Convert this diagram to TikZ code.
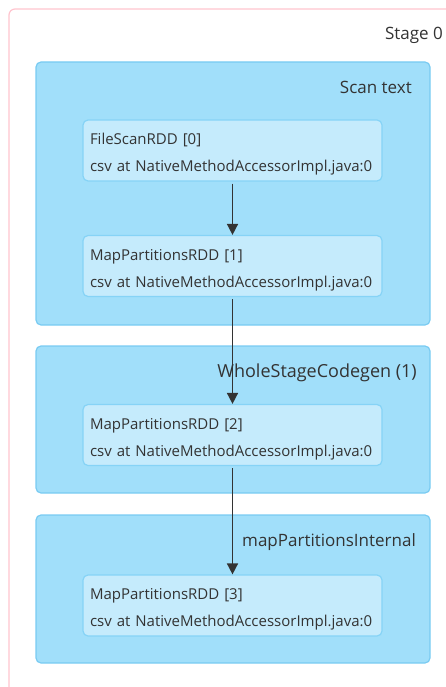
\documentclass[tikz,border=0pt]{standalone}
\usepackage{fontspec}
\setmainfont{Open Sans}
\usepackage{xcolor}
\usetikzlibrary{arrows.meta, positioning}
\definecolor{stageEdge}{HTML}{FFC4CE}
\definecolor{clusterFill}{HTML}{A1DFFA}
\definecolor{clusterEdge}{HTML}{79CBF2}
\definecolor{rddFill}{HTML}{C5EBFC}
\definecolor{rddEdge}{HTML}{86D3F6}
\definecolor{inkColor}{HTML}{333333}

\tikzset{
    cluster/.style={draw=clusterEdge, fill=clusterFill, line width=1.2pt,
        rounded corners=5pt, minimum width=394pt, inner sep=0pt},
    rdd/.style={draw=rddEdge, fill=rddFill, line width=1.2pt, rounded corners=5pt,
        minimum width=299pt, minimum height=61pt, inner sep=0pt, text width=285pt,
        text height=22pt, text depth=34pt,
        align=left, text=inkColor, font=\fontsize{15}{27}\selectfont},
    lbl/.style={anchor=east, text=inkColor, font=\fontsize{17}{19}\selectfont, inner sep=0pt},
    edge/.style={-{Triangle[length=11pt,width=11pt]}, line width=1.6pt, draw=inkColor}
}

\begin{document}
\begin{tikzpicture}[x=1pt, y=-1pt]
    \useasboundingbox (0,0) rectangle (445,687);
    % stage box, runs past the right and bottom edges
    \draw[stageEdge, line width=1.2pt, rounded corners=6pt] (9,9) rectangle (470,720);
    \node[lbl] (stage) at (443,35) {Stage 0};
    % clusters
    \node[cluster, minimum height=263pt] (scan) at (233,193.5) {};
    \node[cluster, minimum height=147pt] (wsc) at (233,419.5) {};
    \node[cluster, minimum height=148pt] (mpi) at (233,589) {};
    \node[lbl] (scanlbl) at (412,87) {Scan text};
    \node[lbl, font=\fontsize{18}{20}\selectfont] (wsclbl) at (417,373) {WholeStageCodegen (1)};
    \node[lbl] (mpilbl) at (416,542) {mapPartitionsInternal};
    % rdd nodes
    \node[rdd] (rdd0) at (232.5,150.5) {FileScanRDD [0]\\csv at NativeMethodAccessorImpl.java:0};
    \node[rdd] (rdd1) at (232.5,266) {MapPartitionsRDD [1]\\csv at NativeMethodAccessorImpl.java:0};
    \node[rdd] (rdd2) at (232.5,435) {MapPartitionsRDD [2]\\csv at NativeMethodAccessorImpl.java:0};
    \node[rdd] (rdd3) at (232.5,605.5) {MapPartitionsRDD [3]\\csv at NativeMethodAccessorImpl.java:0};
    % edges
    \draw[edge] ([yshift=-2pt]rdd0.south) -- (rdd1.north);
    \draw[edge] ([yshift=-2pt]rdd1.south) -- (rdd2.north);
    \draw[edge] ([yshift=-2pt]rdd2.south) -- (rdd3.north);
\end{tikzpicture}
\end{document}
